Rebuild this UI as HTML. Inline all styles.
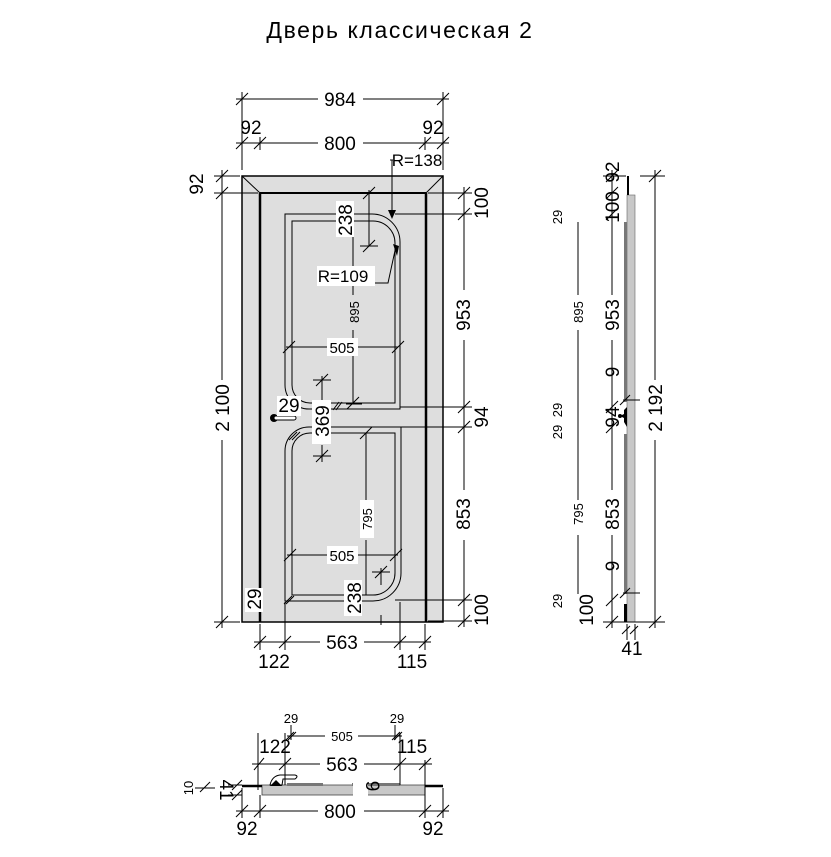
<!DOCTYPE html>
<html><head><meta charset="utf-8"><style>
html,body{margin:0;padding:0;background:#fff;}
svg{display:block;font-family:"Liberation Sans","DejaVu Sans",sans-serif;}
.l{stroke:#000;stroke-width:1;fill:none}
.t{font-size:19px;fill:#000}
.s{font-size:13px;fill:#000}
</style></head><body>
<svg width="831" height="857" viewBox="0 0 831 857" xmlns="http://www.w3.org/2000/svg">
<rect width="831" height="857" fill="#fff"/>
<text x="400" y="38" text-anchor="middle" font-size="23" letter-spacing="1.6" fill="#000">Дверь классическая 2</text>

<!-- main door -->
<rect x="242" y="176" width="201" height="446" fill="#dedede" stroke="#000" stroke-width="1.5"/>
<line x1="242" y1="176" x2="260" y2="193" class="l"/>
<line x1="443" y1="176" x2="426" y2="193" class="l"/>
<line x1="260" y1="193" x2="426" y2="193" stroke="#000" stroke-width="2"/>
<line x1="260" y1="193" x2="260" y2="622" stroke="#000" stroke-width="2.5"/>
<line x1="426" y1="193" x2="426" y2="622" stroke="#000" stroke-width="2.5"/>
<!-- upper panel -->
<path d="M285 214 H372 A28 28 0 0 1 400 242 V409 H309 A24 24 0 0 1 285 385 Z" class="l" stroke-width="1.3"/>
<path d="M292 221 H373 A22 22 0 0 1 395 243 V403 H310 A18 18 0 0 1 292 385 Z" class="l" stroke-width="1.3"/>
<!-- lower panel -->
<path d="M309 427 H401 V573 A28 28 0 0 1 373 601 H285 V451 A24 24 0 0 1 309 427 Z" class="l" stroke-width="1.3"/>
<path d="M310 433 H395 V573 A22 22 0 0 1 373 595 H292 V451 A18 18 0 0 1 310 433 Z" class="l" stroke-width="1.3"/>
<!-- handle -->
<circle cx="274" cy="418" r="4" fill="#000"/>
<rect x="274" y="416" width="22" height="4" rx="2" fill="#fff" stroke="#000"/>

<!-- top dims -->
<g class="l">
<line x1="242" y1="92" x2="242" y2="170"/><line x1="443" y1="92" x2="443" y2="170"/>
<line x1="260" y1="137" x2="260" y2="150"/><line x1="425" y1="137" x2="425" y2="150"/>
<line x1="236" y1="99" x2="318" y2="99"/><line x1="363" y1="99" x2="449" y2="99"/>
<line x1="236" y1="143" x2="318" y2="143"/><line x1="363" y1="143" x2="449" y2="143"/>
<path d="M236 105 L248 93 M437 105 L449 93 M236 149 L248 137 M254 149 L266 137 M419 149 L431 137 M437 149 L449 137"/>
</g>
<text x="340" y="106" text-anchor="middle" class="t">984</text>
<text x="340" y="150" text-anchor="middle" class="t">800</text>
<text x="251" y="134" text-anchor="middle" class="t">92</text>
<text x="433" y="134" text-anchor="middle" class="t">92</text>

<!-- left dims -->
<g class="l">
<line x1="214" y1="176" x2="240" y2="176"/><line x1="214" y1="193" x2="258" y2="193"/><line x1="214" y1="622" x2="240" y2="622"/>
<line x1="222" y1="170" x2="222" y2="380"/><line x1="222" y1="440" x2="222" y2="628"/>
<path d="M216 182 L228 170 M216 199 L228 187 M216 628 L228 616"/>
</g>
<text transform="translate(203,184) rotate(-90)" text-anchor="middle" class="t">92</text>
<text transform="translate(229,408) rotate(-90)" text-anchor="middle" class="t">2 100</text>

<!-- right dims -->
<g class="l">
<line x1="428" y1="193" x2="472" y2="193"/><line x1="395" y1="214" x2="472" y2="214"/>
<line x1="400" y1="407" x2="472" y2="407"/><line x1="400" y1="427" x2="472" y2="427"/>
<line x1="395" y1="600" x2="472" y2="600"/><line x1="428" y1="621" x2="472" y2="621"/>
<line x1="464" y1="187" x2="464" y2="290"/><line x1="464" y1="340" x2="464" y2="490"/><line x1="464" y1="540" x2="464" y2="627"/>
<path d="M458 199 L470 187 M458 220 L470 208 M458 413 L470 401 M458 433 L470 421 M458 606 L470 594 M458 627 L470 615"/>
</g>
<text transform="translate(470,315) rotate(-90)" text-anchor="middle" class="t">953</text>
<text transform="translate(470,514) rotate(-90)" text-anchor="middle" class="t">853</text>
<text transform="translate(488,417) rotate(-90)" text-anchor="middle" class="t">94</text>
<text transform="translate(488,203) rotate(-90)" text-anchor="middle" class="t">100</text>
<text transform="translate(488,610) rotate(-90)" text-anchor="middle" class="t">100</text>

<!-- bottom dims -->
<g class="l">
<line x1="260" y1="624" x2="260" y2="650"/><line x1="285" y1="602" x2="285" y2="650"/>
<line x1="400" y1="602" x2="400" y2="650"/><line x1="425" y1="624" x2="425" y2="650"/>
<line x1="254" y1="642" x2="320" y2="642"/><line x1="364" y1="642" x2="431" y2="642"/>
<path d="M254 648 L266 636 M279 648 L291 636 M394 648 L406 636 M419 648 L431 636"/>
</g>
<text x="342" y="649" text-anchor="middle" class="t">563</text>
<text x="274" y="668" text-anchor="middle" class="t">122</text>
<text x="412" y="668" text-anchor="middle" class="t">115</text>

<!-- inner dims -->
<g class="l">
<line x1="286" y1="347" x2="327" y2="347"/><line x1="358" y1="347" x2="398" y2="347"/>
<path d="M283 353 L295 341 M392 353 L404 341"/>
<line x1="353" y1="221" x2="353" y2="295"/><line x1="353" y1="330" x2="353" y2="403"/>
<path d="M347 409 L359 397 M346 404 H362"/>
<line x1="369" y1="190" x2="369" y2="246"/><path d="M363 199 L375 187 M363 252 L375 240 M360 246 H378"/>
<line x1="322" y1="376" x2="322" y2="400"/><line x1="322" y1="445" x2="322" y2="462"/>
<path d="M316 386 L328 374 M313 380 H331 M316 462 L328 450 M313 456 H331"/>
<line x1="366" y1="433" x2="366" y2="500"/><line x1="366" y1="540" x2="366" y2="595"/>
<path d="M360 439 L372 427"/>
<line x1="287" y1="555" x2="327" y2="555"/><line x1="358" y1="555" x2="398" y2="555"/>
<path d="M284 561 L296 549 M390 561 L402 549"/>
<line x1="381" y1="568" x2="381" y2="585"/><line x1="381" y1="615" x2="381" y2="625"/>
<path d="M375 578 L387 566 M372 572 H390"/>
<path d="M284 604 L292 596 M286 604 L294 596"/>
<path d="M289 440 L297 432 M292 440 L300 432"/>
<path d="M333 410 L339 402 M336 410 L342 402"/>
<path d="M390 160 H405 M392 160 V210" />
<path d="M375 283 H388 L396 246"/>
</g>
<polygon points="388,210 396,210 392,219" fill="#000"/>
<polygon points="393,244 399,246 397,256" fill="#000"/>
<rect x="393" y="151" width="48" height="18" fill="#fff"/>
<text x="417" y="166" text-anchor="middle" font-size="17" fill="#000">R=138</text>
<rect x="317" y="266" width="58" height="20" fill="#fff"/>
<text x="343" y="282" text-anchor="middle" font-size="17" fill="#000">R=109</text>
<rect x="336" y="201" width="18" height="36" fill="#fff"/>
<text transform="translate(352,220) rotate(-90)" text-anchor="middle" class="t">238</text>
<text transform="translate(359,312) rotate(-90)" text-anchor="middle" class="s">895</text>
<rect x="327" y="338" width="31" height="18" fill="#fff"/>
<text x="342" y="353" text-anchor="middle" font-size="15" fill="#000">505</text>
<rect x="277" y="396" width="24" height="20" fill="#fff"/>
<text x="289" y="412" text-anchor="middle" class="t">29</text>
<rect x="312" y="400" width="19" height="44" fill="#fff"/>
<text transform="translate(329,421) rotate(-90)" text-anchor="middle" class="t">369</text>
<rect x="360" y="500" width="14" height="38" fill="#fff"/>
<text transform="translate(372,519) rotate(-90)" text-anchor="middle" class="s">795</text>
<rect x="327" y="546" width="31" height="18" fill="#fff"/>
<text x="342" y="561" text-anchor="middle" font-size="15" fill="#000">505</text>
<rect x="344" y="580" width="18" height="36" fill="#fff"/>
<text transform="translate(361,598) rotate(-90)" text-anchor="middle" class="t">238</text>
<rect x="245" y="588" width="18" height="24" fill="#fff"/>
<text transform="translate(261,599) rotate(-90)" text-anchor="middle" class="t">29</text>

<!-- side view -->
<rect x="627" y="195" width="8" height="427" fill="#c8c8c8" stroke="#666" stroke-width="0.6"/>
<rect x="624" y="222" width="3" height="180" fill="#777"/>
<rect x="624" y="434" width="3" height="160" fill="#777"/>
<rect x="627" y="176" width="2" height="19" fill="#000"/>
<rect x="624" y="604" width="3" height="18" fill="#000"/>
<path d="M627 407 L624 410 L624 414 L620 416 L624 418 L624 422 L627 427 Z" fill="#000"/>
<circle cx="620" cy="416" r="2" fill="#000"/>
<g class="l">
<line x1="612" y1="170" x2="612" y2="295"/><line x1="612" y1="340" x2="612" y2="490"/><line x1="612" y1="535" x2="612" y2="628"/>
<path d="M606 182 L618 170 M606 199 L618 187 M606 220 L618 208 M606 413 L618 401 M606 433 L618 421 M606 606 L618 594 M606 628 L618 616"/>
<line x1="603" y1="176" x2="626" y2="176"/><line x1="603" y1="622" x2="665" y2="622"/>
<line x1="578" y1="222" x2="578" y2="295"/><line x1="578" y1="330" x2="578" y2="500"/><line x1="578" y1="535" x2="578" y2="594"/>
<line x1="655" y1="170" x2="655" y2="380"/><line x1="655" y1="440" x2="655" y2="628"/>
<path d="M649 182 L661 170 M649 628 L661 616 M640 176 H665"/>
<line x1="623" y1="400" x2="640" y2="400"/><path d="M620 405 L630 395 M620 598 L630 588"/><line x1="623" y1="593" x2="640" y2="593"/>
<path d="M622 634 L630 626 M630 634 L638 626"/>
<line x1="627" y1="624" x2="627" y2="640"/><line x1="635" y1="624" x2="635" y2="640"/>
</g>
<text transform="translate(619,172) rotate(-90)" text-anchor="middle" class="t">92</text>
<text transform="translate(619,207) rotate(-90)" text-anchor="middle" class="t">100</text>
<text transform="translate(619,315) rotate(-90)" text-anchor="middle" class="t">953</text>
<text transform="translate(619,417) rotate(-90)" text-anchor="middle" class="t">94</text>
<text transform="translate(619,514) rotate(-90)" text-anchor="middle" class="t">853</text>
<text transform="translate(593,610) rotate(-90)" text-anchor="middle" class="t">100</text>
<text transform="translate(583,312) rotate(-90)" text-anchor="middle" class="s">895</text>
<text transform="translate(583,514) rotate(-90)" text-anchor="middle" class="s">795</text>
<text transform="translate(562,217) rotate(-90)" text-anchor="middle" class="s">29</text>
<text transform="translate(562,410) rotate(-90)" text-anchor="middle" class="s">29</text>
<text transform="translate(562,432) rotate(-90)" text-anchor="middle" class="s">29</text>
<text transform="translate(562,601) rotate(-90)" text-anchor="middle" class="s">29</text>
<text transform="translate(662,408) rotate(-90)" text-anchor="middle" class="t">2 192</text>
<text transform="translate(619,372) rotate(-90)" text-anchor="middle" class="t">9</text>
<text transform="translate(619,566) rotate(-90)" text-anchor="middle" class="t">9</text>
<text x="632" y="655" text-anchor="middle" class="t">41</text>

<!-- bottom (plan) view -->
<rect x="262" y="785" width="163" height="10" fill="#c8c8c8" stroke="#444" stroke-width="0.8"/>
<rect x="287" y="783" width="36" height="3" fill="#777"/>
<rect x="352" y="783" width="48" height="3" fill="#777"/>
<line x1="242" y1="786" x2="262" y2="786" stroke="#000" stroke-width="2.5"/>
<line x1="425" y1="786" x2="443" y2="786" stroke="#000" stroke-width="2.5"/>
<path d="M270 785 Q272 776 280 775 H295 Q299 776 295 779 H283 L282 785 Z" fill="#fff" stroke="#000"/>
<path d="M270 786 L276 780 L282 786 Z" fill="#000"/>
<rect x="353" y="776" width="15" height="20" fill="#fff"/>
<text transform="translate(366,786) rotate(90)" text-anchor="middle" class="t">9</text>
<g class="l">
<line x1="258" y1="733" x2="258" y2="790"/><line x1="285" y1="733" x2="285" y2="785"/>
<line x1="400" y1="733" x2="400" y2="785"/><line x1="425" y1="760" x2="425" y2="795"/>
<line x1="291" y1="725" x2="291" y2="740"/><line x1="395" y1="725" x2="395" y2="740"/>
<line x1="287" y1="736" x2="325" y2="736"/><line x1="358" y1="736" x2="402" y2="736"/>
<path d="M286 740 L294 732 M392 740 L400 732 M394 740 L402 732 M288 740 L296 732"/>
<line x1="252" y1="764" x2="320" y2="764"/><line x1="364" y1="764" x2="432" y2="764"/>
<path d="M254 770 L264 758 M279 770 L291 758 M394 770 L406 758 M419 770 L431 758"/>
<line x1="242" y1="788" x2="242" y2="818"/><line x1="260" y1="795" x2="260" y2="818"/>
<line x1="425" y1="795" x2="425" y2="818"/><line x1="443" y1="788" x2="443" y2="818"/>
<line x1="236" y1="811" x2="318" y2="811"/><line x1="364" y1="811" x2="449" y2="811"/>
<path d="M236 817 L248 805 M254 817 L266 805 M419 817 L431 805 M437 817 L449 805"/>
<line x1="228" y1="785" x2="242" y2="785"/><line x1="228" y1="795" x2="242" y2="795"/>
<path d="M232 790 L242 780 M232 800 L242 790 M200 792 L210 782 M195 788 H215"/>
</g>
<text x="291" y="723" text-anchor="middle" class="s">29</text>
<text x="397" y="723" text-anchor="middle" class="s">29</text>
<text x="342" y="741" text-anchor="middle" class="s">505</text>
<text x="275" y="753" text-anchor="middle" class="t">122</text>
<text x="412" y="753" text-anchor="middle" class="t">115</text>
<text x="342" y="771" text-anchor="middle" class="t">563</text>
<text x="340" y="818" text-anchor="middle" class="t">800</text>
<text x="247" y="835" text-anchor="middle" class="t">92</text>
<text x="433" y="835" text-anchor="middle" class="t">92</text>
<text transform="translate(193,788) rotate(-90)" text-anchor="middle" class="s">10</text>
<text transform="translate(220,790) rotate(90)" text-anchor="middle" class="t">41</text>
</svg>
</body></html>
